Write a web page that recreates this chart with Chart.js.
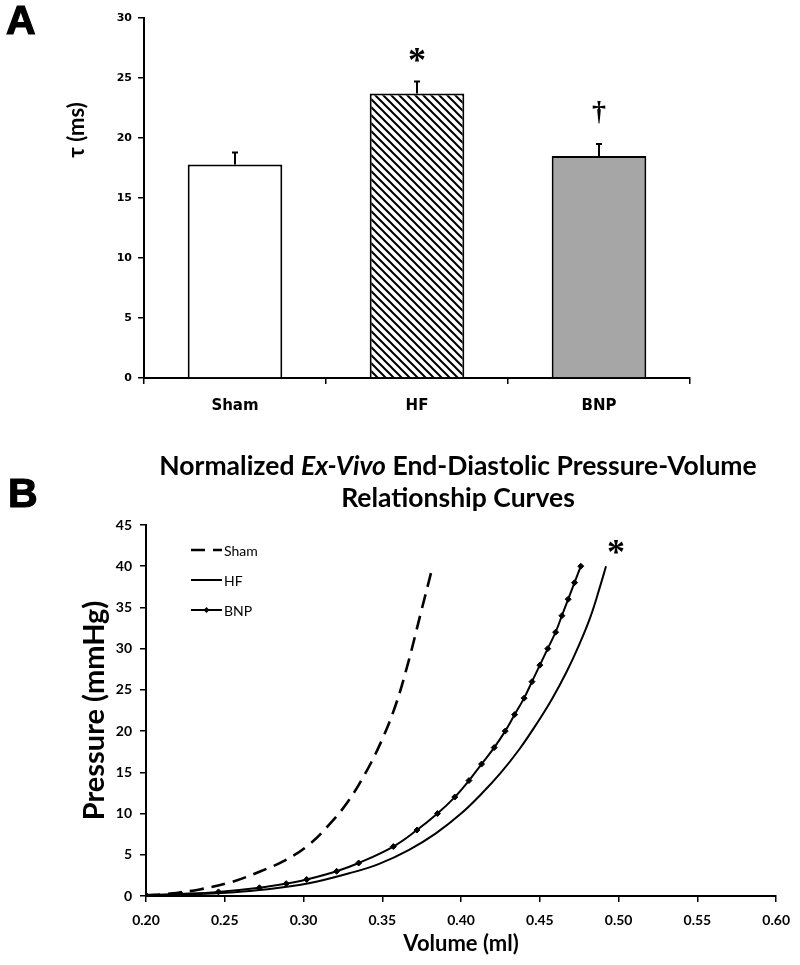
<!DOCTYPE html>
<html>
<head>
<meta charset="utf-8">
<script src="https://cdn.jsdelivr.net/npm/chart.js@4.4.0/dist/chart.umd.min.js"></script>
<style>
html,body{margin:0;padding:0;background:#fff;width:800px;height:965px;overflow:hidden;}
#wrapA{position:absolute;left:0;top:0;width:800px;height:430px;}
#wrapB{position:absolute;left:0;top:430px;width:800px;height:535px;}
.panel{position:absolute;font-family:"Liberation Sans",Arial,sans-serif;font-weight:bold;font-size:41px;line-height:41px;-webkit-text-stroke:1.2px #000;}
#title{position:absolute;top:449px;left:0;width:916px;text-align:center;font-family:Lato,sans-serif;font-weight:bold;font-size:26.5px;line-height:32px;color:#000;}
</style>
</head>
<body>
<div id="wrapA"><canvas id="chartA" width="800" height="430"></canvas></div>
<div id="wrapB"><canvas id="chartB" width="800" height="535"></canvas></div>
<div class="panel" style="left:6px;top:0px;">A</div>
<div class="panel" style="left:8px;top:473px;">B</div>
<div id="title">Normalized <i>Ex-Vivo</i> End-Diastolic Pressure-Volume<br>Relationship Curves</div>
<script>
// ---------- Panel A data ----------
const categories = ['Sham', 'HF', 'BNP'];
const tauMeans = [17.8, 23.7, 18.5];
const tauSEM = [1.0, 1.0, 1.0];
const sigMarks = ['', '*', '\u2020'];
const tauTicks = [0, 5, 10, 15, 20, 25, 30];

// ---------- Panel B data ----------
const shamVol = [0.200, 0.213, 0.234, 0.255, 0.272, 0.287, 0.302, 0.316, 0.328, 0.339, 0.349, 0.358, 0.366, 0.374, 0.382];
const shamP   = [0.10, 0.25, 0.80, 1.74, 2.95, 4.2, 6.0, 8.6, 11.4, 14.8, 18.6, 22.9, 28.0, 34.0, 40.0];
const hfVol = [0.200, 0.225, 0.245, 0.266, 0.287, 0.308, 0.329, 0.348, 0.367, 0.384, 0.400, 0.413, 0.425, 0.437, 0.448, 0.458, 0.467, 0.475, 0.482, 0.488, 0.492];
const hfP   = [0.08, 0.20, 0.33, 0.60, 1.05, 1.74, 2.75, 3.9, 5.6, 7.6, 10.0, 12.4, 14.9, 17.8, 20.9, 24.0, 27.2, 30.5, 33.8, 37.4, 40.0];
const bnpVol = [0.200, 0.222, 0.246, 0.272, 0.289, 0.302, 0.321, 0.335, 0.357, 0.372, 0.385, 0.396, 0.405, 0.413, 0.421, 0.428, 0.434, 0.440, 0.445, 0.450, 0.455, 0.460, 0.464, 0.468, 0.472, 0.476];
const bnpP   = [0.10, 0.25, 0.5, 1, 1.5, 2, 3, 4, 6, 8, 10, 12, 14, 16, 18, 20, 22, 24, 26, 28, 30, 32, 34, 36, 38, 40];
const seriesNames = ['Sham', 'HF', 'BNP'];
const volTicks = [0.20, 0.25, 0.30, 0.35, 0.40, 0.45, 0.50, 0.55, 0.60];
const pressTicks = [0, 5, 10, 15, 20, 25, 30, 35, 40, 45];

// ---------- hatch pattern ----------
function makeHatch() {
  const c = document.createElement('canvas');
  c.width = 8; c.height = 8;
  const g = c.getContext('2d');
  g.fillStyle = '#fff'; g.fillRect(0, 0, 8, 8);
  g.strokeStyle = '#000'; g.lineWidth = 2;
  g.beginPath();
  g.moveTo(-2, -2); g.lineTo(10, 10);
  g.moveTo(-10, -2); g.lineTo(2, 10);
  g.moveTo(6, -2); g.lineTo(18, 10);
  g.stroke();
  return g.createPattern(c, 'repeat');
}

const errPlugin = {
  id: 'errBars',
  afterDatasetsDraw(chart) {
    const ctx = chart.ctx, meta = chart.getDatasetMeta(0), ys = chart.scales.y;
    ctx.save();
    ctx.strokeStyle = '#000'; ctx.lineWidth = 2;
    meta.data.forEach((bar, i) => {
      const top = ys.getPixelForValue(tauMeans[i] + tauSEM[i]);
      ctx.beginPath();
      ctx.moveTo(bar.x, bar.y); ctx.lineTo(bar.x, top);
      ctx.moveTo(bar.x - 3, top); ctx.lineTo(bar.x + 3, top);
      ctx.stroke();
      if (sigMarks[i]) {
        ctx.fillStyle = '#000';
        ctx.textAlign = 'center'; ctx.textBaseline = 'alphabetic';
        if (sigMarks[i] === '*') {
          ctx.font = 'bold 36px "Liberation Serif", serif';
          ctx.fillText(sigMarks[i], bar.x, top - 10);
        } else {
          ctx.font = 'bold 28px "Liberation Serif", serif';
          ctx.fillText(sigMarks[i], bar.x, top - 24);
        }
      }
    });
    // y-axis title
    ctx.translate(77, 130);
    ctx.rotate(-Math.PI / 2);
    ctx.textAlign = 'center'; ctx.textBaseline = 'middle';
    ctx.font = 'bold 22px Lato, sans-serif';
    ctx.fillText('\u03C4 (ms)', 0, 0);
    ctx.restore();
  }
};

new Chart(document.getElementById('chartA'), {
  type: 'bar',
  data: {
    labels: categories,
    datasets: [{
      data: tauMeans,
      backgroundColor: ['#ffffff', makeHatch(), '#a6a6a6'],
      borderColor: '#000',
      borderWidth: 2,
      borderSkipped: 'bottom',
      barPercentage: 0.52,
      categoryPercentage: 1.0
    }]
  },
  options: {
    responsive: false,
    animation: false,
    devicePixelRatio: 1,
    layout: { padding: { left: 0, right: 110, top: 18, bottom: 0 } },
    plugins: { legend: { display: false }, tooltip: { enabled: false } },
    scales: {
      x: {
        afterFit(s) { s.height = 52; },
        grid: { drawOnChartArea: false, drawTicks: true, tickLength: 6, color: '#000', lineWidth: 1.5, offset: true },
        border: { display: true, color: '#000', width: 2 },
        ticks: { color: '#000', padding: 13, font: { family: 'DejaVu Sans', weight: 'bold', size: 15 } }
      },
      y: {
        min: 0, max: 30,
        afterFit(s) { s.width = 144; },
        afterBuildTicks(s) { s.ticks = tauTicks.map(v => ({ value: v })); },
        grid: { drawOnChartArea: false, drawTicks: true, tickLength: 6, color: '#000', lineWidth: 1.5 },
        border: { display: true, color: '#000', width: 2 },
        ticks: { color: '#000', padding: 6, font: { family: 'DejaVu Sans', weight: 'bold', size: 11 } }
      }
    }
  },
  plugins: [errPlugin]
});

// ---------- Panel B ----------
const legendPlugin = {
  id: 'inLegend',
  afterDraw(chart) {
    const ctx = chart.ctx, ca = chart.chartArea;
    ctx.save();
    chart.data.datasets.forEach((ds, i) => {
      const y = ca.top + 25 + i * 30;
      const x0 = ca.left + 45, x1 = ca.left + 76;
      ctx.strokeStyle = '#000';
      ctx.lineWidth = ds.borderWidth;
      ctx.setLineDash(ds.borderDash || []);
      ctx.beginPath(); ctx.moveTo(x0, y); ctx.lineTo(x1, y); ctx.stroke();
      ctx.setLineDash([]);
      if (ds.pointRadius > 0) {
        const cx = (x0 + x1) / 2, r = ds.pointRadius;
        ctx.fillStyle = '#000';
        ctx.beginPath();
        ctx.moveTo(cx, y - r); ctx.lineTo(cx + r, y); ctx.lineTo(cx, y + r); ctx.lineTo(cx - r, y);
        ctx.closePath(); ctx.fill();
      }
      ctx.fillStyle = '#000';
      ctx.font = '14px Lato, sans-serif';
      ctx.textAlign = 'left'; ctx.textBaseline = 'middle';
      ctx.fillText(ds.label, x1 + 2, y + 1);
    });
    // significance mark at HF curve end
    const xs = chart.scales.x, ys = chart.scales.y;
    const hx = xs.getPixelForValue(hfVol[hfVol.length - 1]);
    const hy = ys.getPixelForValue(hfP[hfP.length - 1]);
    ctx.font = 'bold 36px "Liberation Serif", serif';
    ctx.textAlign = 'center'; ctx.textBaseline = 'alphabetic';
    ctx.fillText('*', hx + 10, hy - 2);
    ctx.restore();
  }
};

function pts(xs, ys) { return xs.map((x, i) => ({ x: x, y: ys[i] })); }

new Chart(document.getElementById('chartB'), {
  type: 'line',
  data: {
    datasets: [
      { label: seriesNames[0], data: pts(shamVol, shamP), borderColor: '#000', borderWidth: 2.6, borderDash: [14, 8],
        pointRadius: 0, tension: 0.4, fill: false },
      { label: seriesNames[1], data: pts(hfVol, hfP), borderColor: '#000', borderWidth: 2,
        pointRadius: 0, tension: 0.4, fill: false },
      { label: seriesNames[2], data: pts(bnpVol, bnpP), borderColor: '#000', borderWidth: 2,
        pointRadius: 3, pointStyle: 'rectRot', pointBackgroundColor: '#000', pointBorderColor: '#000', pointBorderWidth: 1,
        tension: 0.4, fill: false }
    ]
  },
  options: {
    responsive: false,
    animation: false,
    devicePixelRatio: 1,
    layout: { padding: { left: 0, right: 22, top: 95, bottom: 0 } },
    plugins: { legend: { display: false }, tooltip: { enabled: false } },
    scales: {
      x: {
        type: 'linear', min: 0.2, max: 0.6,
        afterFit(s) { s.height = 69; },
        afterBuildTicks(s) { s.ticks = volTicks.map(v => ({ value: v })); },
        grid: { drawOnChartArea: false, drawTicks: true, tickLength: 6, color: '#000', lineWidth: 1.5 },
        border: { display: true, color: '#000', width: 2 },
        ticks: { color: '#000', padding: 10, font: { family: 'Lato', weight: 'bold', size: 14 },
                 callback: v => Number(v).toFixed(2) },
        title: { display: true, text: 'Volume (ml)', color: '#000', padding: { top: 0, bottom: 8 },
                 font: { family: 'Lato', weight: 'bold', size: 22 } }
      },
      y: {
        min: 0, max: 45,
        afterFit(s) { s.width = 146; },
        afterBuildTicks(s) { s.ticks = pressTicks.map(v => ({ value: v })); },
        grid: { drawOnChartArea: false, drawTicks: true, tickLength: 6, color: '#000', lineWidth: 1.5 },
        border: { display: true, color: '#000', width: 2 },
        ticks: { color: '#000', padding: 8, font: { family: 'Lato', weight: 'bold', size: 14 } },
        title: { display: true, text: 'Pressure (mmHg)', color: '#000', padding: { top: 77, bottom: 0 },
                 font: { family: 'Lato', weight: 'bold', size: 29 } }
      }
    }
  },
  plugins: [legendPlugin]
});
</script>
</body>
</html>
